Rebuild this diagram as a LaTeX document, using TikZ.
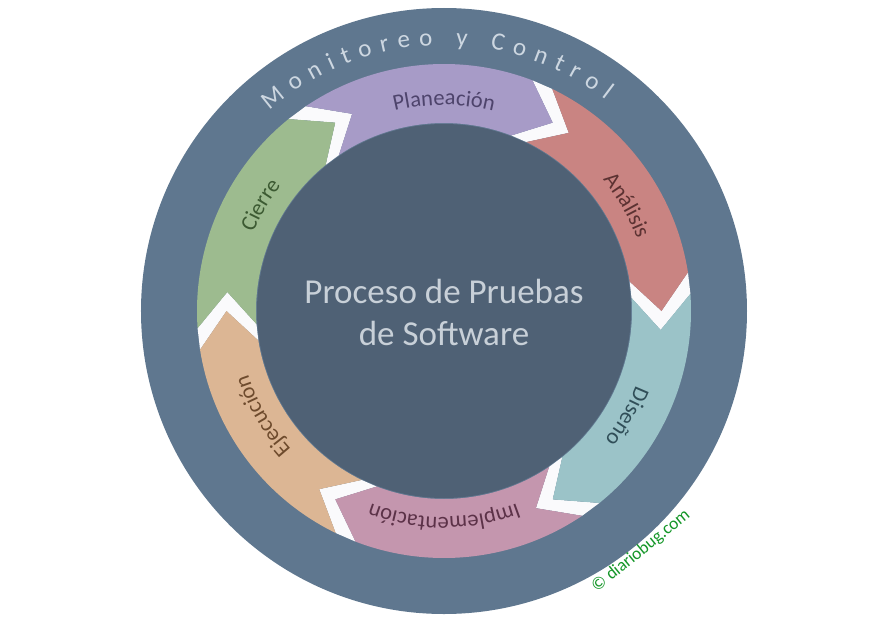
\documentclass[tikz,border=0pt]{standalone}
\usepackage{fontspec}
\setmainfont{Carlito}
\usetikzlibrary{decorations.text}
\definecolor{ring}{RGB}{95,119,143}
\definecolor{core}{RGB}{79,97,117}
\definecolor{cPla}{RGB}{167,155,199}
\definecolor{cAna}{RGB}{201,132,130}
\definecolor{cDis}{RGB}{155,195,200}
\definecolor{cImp}{RGB}{196,150,174}
\definecolor{cEje}{RGB}{220,182,148}
\definecolor{cCie}{RGB}{157,187,143}
\definecolor{tPla}{RGB}{78,68,108}
\definecolor{tAna}{RGB}{92,50,50}
\definecolor{tDis}{RGB}{48,78,88}
\definecolor{tImp}{RGB}{92,50,72}
\definecolor{tEje}{RGB}{110,75,45}
\definecolor{tCie}{RGB}{60,90,50}
\definecolor{ringtxt}{RGB}{205,215,225}
\definecolor{coretxt}{RGB}{200,208,216}
\definecolor{copyg}{RGB}{20,150,40}
\definecolor{gapw}{RGB}{250,250,252}
\newcommand{\segshape}[2]{%
  \fill[#2] ({#1+9}:247pt) arc[start angle={#1+9}, end angle={#1+64}, radius=247pt]
    -- ({#1+55}:217.5pt) -- ({#1+64}:188pt)
    arc[start angle={#1+64}, end angle={#1+9}, radius=188pt]
    -- (#1:217.5pt) -- cycle;}
\newcommand{\gapshape}[1]{%
  \fill[gapw] ({#1+9}:247pt) -- (#1:217.5pt) -- ({#1+9}:188pt) -- ({#1+4}:188pt)
    -- ({#1-5}:217.5pt) -- ({#1+4}:247pt) -- cycle;}
\newcommand{\seglabel}[3]{%
  \path[decorate, decoration={text along path, text align=center,
      text={|\fontsize{22.5}{22.5}\selectfont\color{#2}|#3}}]
    ({#1+50}:206pt) arc[start angle={#1+50}, end angle={#1-50}, radius=206pt];}
\begin{document}
\begin{tikzpicture}[x=1pt,y=1pt]
\useasboundingbox (-444,-311) rectangle (445,311);
% outer ring
\fill[ring] (0,0) circle[radius=303pt];
% gaps
\foreach \b in {0,60,120,180,240,300} {\gapshape{\b}}
% segments
\segshape{60}{cPla}
\segshape{0}{cAna}
\segshape{-60}{cDis}
\segshape{-120}{cImp}
\segshape{180}{cEje}
\segshape{120}{cCie}
% core
\fill[core] (0,0) circle[radius=187pt];
% labels
\seglabel{90}{tPla}{Planeación}
\seglabel{30}{tAna}{Análisis}
\seglabel{-30}{tDis}{Diseño}
\seglabel{-90}{tImp}{Implementación}
\seglabel{-150}{tEje}{Ejecución}
\seglabel{150}{tCie}{Cierre}
% ring text
\path[decorate, decoration={text along path, text align=fit to path,
    text={|\fontsize{25}{25}\selectfont\color{ringtxt}|Monitoreo y Control}}]
  (131:266pt) arc[start angle=131, end angle=52.5, radius=266pt];
% center text
\node[anchor=base, text=coretxt, font=\fontsize{35}{42}\selectfont, inner sep=0pt] (title1) at (0,8) {Proceso de Pruebas};
\node[anchor=base, text=coretxt, font=\fontsize{35}{42}\selectfont, inner sep=0pt] (title2) at (0,-34) {de Software};
% copyright
\node[rotate=39, text=copyg, font=\fontsize{17.5}{17.5}\selectfont, inner sep=0pt] (copy) at (197,-240) {© diariobug.com};
\end{tikzpicture}
\end{document}
